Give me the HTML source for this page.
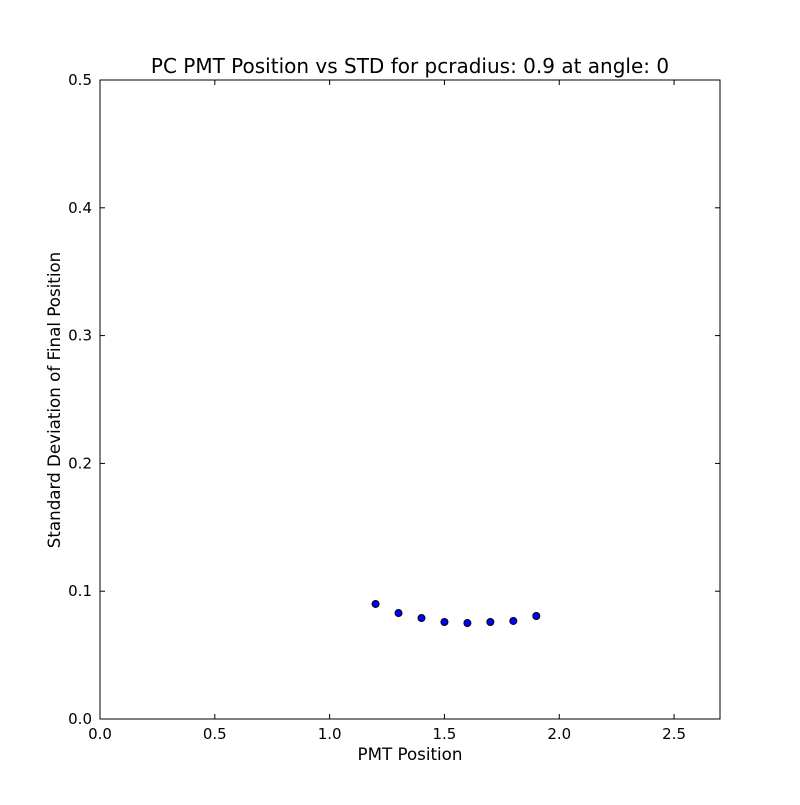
<!DOCTYPE html>
<html><head><meta charset="utf-8"><style>
body{margin:0;background:#fff;}
svg text{font-family:"DejaVu Sans","Liberation Sans",sans-serif;fill:#000;}
</style></head><body>
<svg id="chart" width="800" height="800" xmlns="http://www.w3.org/2000/svg">
<rect width="800" height="800" fill="#fff"/>
<text x="410" y="73" font-size="20" text-anchor="middle">PC PMT Position vs STD for pcradius: 0.9 at angle: 0</text>
<text x="410" y="760" font-size="16.7" text-anchor="middle">PMT Position</text>
<text transform="translate(60,400) rotate(-90)" font-size="16.7" text-anchor="middle">Standard Deviation of Final Position</text>
<g id="ticks"></g>
<g id="points"></g>
<rect x="100" y="80" width="620" height="639" fill="none" stroke="#000" stroke-width="1"/>
</svg>
<script>
const xVals=[1.2,1.3,1.4,1.5,1.6,1.7,1.8,1.9];
const yVals=[0.090,0.0829,0.0790,0.0759,0.0751,0.0759,0.0767,0.0806];
const xTicks=[0,0.5,1.0,1.5,2.0,2.5];
const xTickLabels=["0.0","0.5","1.0","1.5","2.0","2.5"];
const yTicks=[0,0.1,0.2,0.3,0.4,0.5];
const yTickLabels=["0.0","0.1","0.2","0.3","0.4","0.5"];
const L=100,R=720,T=80,B=719,XMAX=2.7,YMAX=0.5;
const sx=v=>L+v/XMAX*(R-L), sy=v=>B-v/YMAX*(B-T);
const NS="http://www.w3.org/2000/svg";
const tg=document.getElementById('ticks'), pg=document.getElementById('points');
function mk(tag,attrs,parent){const e=document.createElementNS(NS,tag);for(const k in attrs)e.setAttribute(k,attrs[k]);parent.appendChild(e);return e;}
xTicks.forEach((v,i)=>{const x=sx(v);
 mk('line',{x1:x,x2:x,y1:B,y2:B-5,stroke:'#000'},tg);
 mk('line',{x1:x,x2:x,y1:T,y2:T+5,stroke:'#000'},tg);
 const t=mk('text',{x:x,y:B+20,'font-size':15,'text-anchor':'middle'},tg);t.textContent=xTickLabels[i];
 
 });
yTicks.forEach((v,i)=>{const y=sy(v);
 mk('line',{x1:L,x2:L+5,y1:y,y2:y,stroke:'#000'},tg);
 mk('line',{x1:R,x2:R-5,y1:y,y2:y,stroke:'#000'},tg);
 const t=mk('text',{x:L-8,y:y+5,'font-size':15,'text-anchor':'end'},tg);t.textContent=yTickLabels[i];
 
 });
xVals.forEach((v,i)=>{const c=mk('circle',{cx:sx(v),cy:sy(yVals[i]),r:3.5,fill:'#0000ff',stroke:'#000','stroke-width':1},pg);
 
 });
</script>
</body></html>
